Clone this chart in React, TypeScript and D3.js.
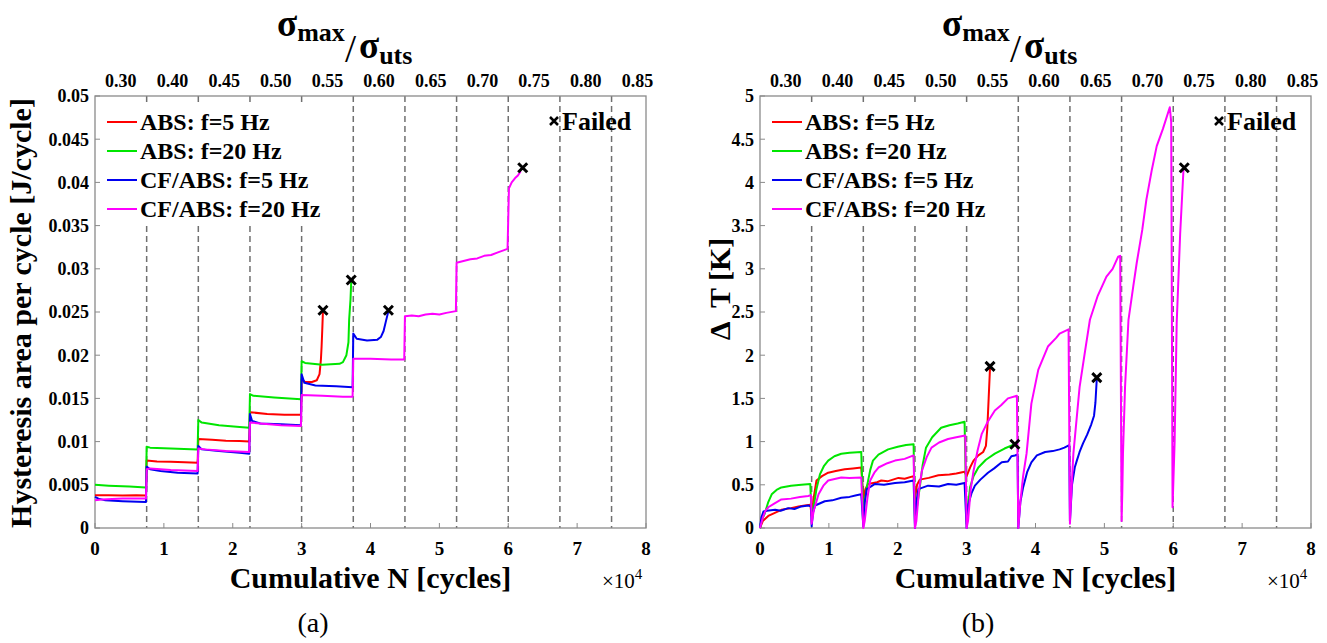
import React, { useEffect, useRef } from 'react';
import * as d3 from 'd3';

const WIDTH = 1327;
const HEIGHT = 643;
const FONT = '"Liberation Serif", "Times New Roman", serif';

// x values are cumulative cycles in units of 1e4
const stepBounds = [0.75, 1.5, 2.25, 3, 3.75, 4.5, 5.25, 6, 6.75, 7.5];
const ratioMids = [0.375, 1.125, 1.875, 2.625, 3.375, 4.125, 4.875, 5.625, 6.375, 7.125, 7.875];
const ratioLabels = ['0.30', '0.40', '0.45', '0.50', '0.55', '0.60', '0.65', '0.70', '0.75', '0.80', '0.85'];
const xTicks = [0, 1, 2, 3, 4, 5, 6, 7, 8];

const seriesNames = ['ABS: f=5 Hz', 'ABS: f=20 Hz', 'CF/ABS: f=5 Hz', 'CF/ABS: f=20 Hz'];
const seriesColors = ['#ff0000', '#00e600', '#0000f0', '#ff00ff'];

// (a) hysteresis area per cycle [J/cycle]
const hystAbs5 = [
  [0, 0.0038], [0.2, 0.0038], [0.4, 0.00375], [0.6, 0.0038], [0.74, 0.00375],
  [0.75, 0.0078], [0.9, 0.0077], [1.1, 0.00768], [1.3, 0.0076], [1.49, 0.00755],
  [1.5, 0.0103], [1.7, 0.0102], [1.9, 0.0101], [2.1, 0.01008], [2.24, 0.01],
  [2.25, 0.0134], [2.5, 0.0132], [2.75, 0.0131], [2.99, 0.0131],
  [3.0, 0.0172], [3.05, 0.0169], [3.15, 0.0169], [3.22, 0.0171], [3.26, 0.0178],
  [3.28, 0.0195], [3.29, 0.021], [3.3, 0.023], [3.31, 0.0252]
];
const hystAbs20 = [
  [0, 0.005], [0.2, 0.0049], [0.5, 0.0048], [0.74, 0.0047],
  [0.75, 0.0094], [0.8, 0.0093], [1.1, 0.0092], [1.49, 0.0091],
  [1.5, 0.0125], [1.55, 0.0122], [1.8, 0.0119], [2.1, 0.0117], [2.24, 0.0116],
  [2.25, 0.0155], [2.3, 0.0153], [2.6, 0.0151], [2.99, 0.0149],
  [3.0, 0.0193], [3.05, 0.0191], [3.3, 0.0189], [3.55, 0.019], [3.6, 0.0192],
  [3.65, 0.02], [3.68, 0.0215], [3.69, 0.0241], [3.71, 0.0265], [3.72, 0.0285]
];
const hystCf5 = [
  [0, 0.0036], [0.05, 0.0034], [0.15, 0.0032], [0.4, 0.0031], [0.74, 0.003],
  [0.75, 0.0071], [0.8, 0.0068], [0.95, 0.0066], [1.2, 0.0064], [1.49, 0.0063],
  [1.5, 0.0095], [1.55, 0.0091], [1.8, 0.0089], [2.1, 0.0087], [2.24, 0.0086],
  [2.25, 0.0132], [2.28, 0.0124], [2.4, 0.0121], [2.7, 0.012], [2.99, 0.0119],
  [3.0, 0.0178], [3.04, 0.0168], [3.2, 0.0165], [3.5, 0.0164], [3.74, 0.0163],
  [3.75, 0.0225], [3.8, 0.0219], [3.95, 0.0217], [4.1, 0.0218], [4.15, 0.0221],
  [4.19, 0.0228], [4.22, 0.0238], [4.26, 0.0251]
];
const hystCf20 = [
  [0, 0.0032], [0.1, 0.0033], [0.4, 0.0034], [0.74, 0.0034],
  [0.75, 0.0068], [0.8, 0.0069], [1.1, 0.0067], [1.49, 0.0066],
  [1.5, 0.0092], [1.6, 0.0091], [1.9, 0.0089], [2.24, 0.0088],
  [2.25, 0.0122], [2.4, 0.0121], [2.7, 0.0119], [2.99, 0.0118],
  [3.0, 0.0154], [3.3, 0.0153], [3.6, 0.0152], [3.74, 0.0152],
  [3.75, 0.0196], [4.0, 0.0196], [4.3, 0.0195], [4.49, 0.0195],
  [4.5, 0.0245], [4.6, 0.0246], [4.7, 0.0245], [4.8, 0.0247], [4.9, 0.0248],
  [5.0, 0.0247], [5.1, 0.0249], [5.24, 0.0251],
  [5.25, 0.0307], [5.35, 0.0309], [5.45, 0.0311], [5.55, 0.0312], [5.65, 0.0315],
  [5.75, 0.0316], [5.85, 0.0319], [5.99, 0.0323],
  [6.01, 0.0393], [6.05, 0.04], [6.1, 0.0405], [6.14, 0.0408], [6.18, 0.0413]
];
const hystFailed = [[3.31, 0.0252], [3.72, 0.0287], [4.26, 0.0252], [6.21, 0.0417]];
const hystTicks = [0, 0.005, 0.01, 0.015, 0.02, 0.025, 0.03, 0.035, 0.04, 0.045, 0.05];
const hystTickLabels = ['0', '0.005', '0.01', '0.015', '0.02', '0.025', '0.03', '0.035', '0.04', '0.045', '0.05'];

// (b) temperature rise [K]
const dtAbs5 = [
  [0, 0], [0.04, 0.08], [0.12, 0.14], [0.2, 0.17], [0.31, 0.21], [0.45, 0.23], [0.56, 0.25], [0.65, 0.26], [0.73, 0.27],
  [0.75, 0.15], [0.78, 0.35], [0.82, 0.55], [0.9, 0.6], [0.99, 0.64], [1.1, 0.66], [1.23, 0.68], [1.35, 0.69], [1.47, 0.7],
  [1.5, 0.34], [1.53, 0.45], [1.57, 0.51], [1.7, 0.53], [1.76, 0.55], [1.85, 0.54], [2.01, 0.58], [2.1, 0.57], [2.23, 0.6],
  [2.25, 0.34], [2.28, 0.5], [2.32, 0.56], [2.45, 0.58], [2.59, 0.61], [2.75, 0.62], [2.85, 0.63], [2.97, 0.65],
  [3.0, 0.6], [3.05, 0.7], [3.1, 0.78], [3.17, 0.84], [3.24, 0.88], [3.28, 0.95], [3.3, 1.15], [3.32, 1.5], [3.34, 1.86]
];
const dtAbs20 = [
  [0, 0], [0.03, 0.1], [0.07, 0.17], [0.12, 0.3], [0.17, 0.39], [0.24, 0.44], [0.31, 0.47], [0.45, 0.49], [0.6, 0.5], [0.73, 0.51],
  [0.75, 0.14], [0.78, 0.25], [0.82, 0.45], [0.87, 0.62], [0.93, 0.72], [0.99, 0.78], [1.08, 0.83], [1.18, 0.86], [1.3, 0.87], [1.47, 0.88],
  [1.5, 0.1], [1.52, 0.3], [1.55, 0.47], [1.6, 0.67], [1.64, 0.78], [1.72, 0.85], [1.86, 0.91], [2.0, 0.94], [2.12, 0.96], [2.23, 0.97],
  [2.25, 0.05], [2.28, 0.25], [2.32, 0.47], [2.36, 0.72], [2.41, 0.93], [2.5, 1.05], [2.63, 1.16], [2.75, 1.19], [2.87, 1.21], [2.97, 1.23],
  [3.0, 0.05], [3.02, 0.25], [3.05, 0.47], [3.1, 0.6], [3.17, 0.7], [3.28, 0.79], [3.41, 0.86], [3.55, 0.92], [3.7, 0.97]
];
const dtCf5 = [
  [0, 0], [0.02, 0.12], [0.05, 0.19], [0.1, 0.2], [0.22, 0.21], [0.3, 0.2], [0.41, 0.23], [0.5, 0.22], [0.6, 0.25], [0.7, 0.26], [0.74, 0.25],
  [0.75, 0.02], [0.77, 0.18], [0.8, 0.26], [0.94, 0.31], [1.05, 0.32], [1.18, 0.35], [1.3, 0.36], [1.4, 0.38], [1.47, 0.39],
  [1.5, 0.02], [1.52, 0.3], [1.55, 0.45], [1.67, 0.51], [1.8, 0.5], [1.96, 0.52], [2.1, 0.53], [2.23, 0.55],
  [2.25, 0], [2.27, 0.3], [2.3, 0.45], [2.44, 0.49], [2.6, 0.48], [2.73, 0.51], [2.85, 0.5], [2.97, 0.52],
  [3.0, 0], [3.02, 0.26], [3.07, 0.4], [3.12, 0.49], [3.2, 0.56], [3.31, 0.64], [3.4, 0.69], [3.51, 0.76], [3.6, 0.77], [3.65, 0.83], [3.7, 0.84], [3.74, 0.85],
  [3.75, 0], [3.78, 0.3], [3.82, 0.47], [3.88, 0.65], [3.94, 0.76], [4.02, 0.84], [4.14, 0.88], [4.25, 0.89], [4.35, 0.91], [4.42, 0.93], [4.49, 0.96],
  [4.5, 0.08], [4.53, 0.5], [4.57, 0.7], [4.6, 0.78], [4.64, 0.88], [4.69, 0.98], [4.75, 1.08], [4.81, 1.2], [4.85, 1.3], [4.87, 1.45], [4.89, 1.73]
];
const dtCf20 = [
  [0, 0], [0.04, 0.12], [0.08, 0.2], [0.12, 0.24], [0.2, 0.28], [0.31, 0.33], [0.45, 0.34], [0.58, 0.36], [0.7, 0.37], [0.74, 0.38],
  [0.75, 0.05], [0.78, 0.2], [0.85, 0.39], [0.92, 0.49], [0.99, 0.55], [1.1, 0.57], [1.18, 0.585], [1.3, 0.58], [1.47, 0.585],
  [1.5, 0], [1.52, 0.08], [1.56, 0.35], [1.6, 0.55], [1.66, 0.64], [1.72, 0.7], [1.85, 0.75], [1.96, 0.78], [2.1, 0.8], [2.23, 0.84],
  [2.25, 0], [2.27, 0.08], [2.31, 0.45], [2.35, 0.66], [2.42, 0.82], [2.49, 0.93], [2.6, 0.99], [2.73, 1.03], [2.85, 1.05], [2.98, 1.07],
  [3.0, 0], [3.02, 0.08], [3.06, 0.45], [3.1, 0.66], [3.16, 0.9], [3.22, 1.09], [3.3, 1.22], [3.41, 1.36], [3.5, 1.42], [3.6, 1.5], [3.73, 1.53],
  [3.75, 0], [3.78, 0.3], [3.82, 0.6], [3.87, 0.86], [3.94, 1.44], [4.04, 1.83], [4.18, 2.1], [4.3, 2.2], [4.35, 2.25], [4.48, 2.3],
  [4.5, 0.05], [4.52, 0.4], [4.55, 0.86], [4.64, 1.63], [4.72, 2.05], [4.79, 2.41], [4.9, 2.68], [5.03, 2.91], [5.12, 3.0], [5.2, 3.14], [5.23, 3.15],
  [5.25, 0.08], [5.26, 0.4], [5.27, 0.86], [5.3, 1.63], [5.35, 2.41], [5.42, 2.8], [5.47, 3.07], [5.55, 3.45], [5.61, 3.8], [5.69, 4.15],
  [5.76, 4.42], [5.85, 4.62], [5.95, 4.87], [5.97, 4.7],
  [5.99, 0.24], [6.02, 1.0], [6.05, 2.37], [6.1, 3.4], [6.15, 4.17]
];
const dtFailed = [[3.34, 1.87], [3.7, 0.97], [4.89, 1.74], [6.16, 4.17]];
const dtTicks = [0, 0.5, 1, 1.5, 2, 2.5, 3, 3.5, 4, 4.5, 5];
const dtTickLabels = ['0', '0.5', '1', '1.5', '2', '2.5', '3', '3.5', '4', '4.5', '5'];

type Pt = number[];

interface PanelOpts {
  x0: number;
  x1: number;
  yMax: number;
  yTicks: number[];
  yTickLabels: string[];
  series: Pt[][];
  failed: Pt[];
  ylabel: string;
  ylabelX: number;
  ylabelY: number;
  tag: string;
  tagX: number;
}

const TOP = 96;
const BOTTOM = 528;

function drawPanel(svg: d3.Selection<SVGSVGElement, unknown, null, undefined>, o: PanelOpts) {
  const g = svg.append('g');
  const x = d3.scaleLinear().domain([0, 8]).range([o.x0, o.x1]);
  const y = d3.scaleLinear().domain([0, o.yMax]).range([BOTTOM, TOP]);

  // stress-level boundaries
  g.selectAll('line.step')
    .data(stepBounds)
    .enter()
    .append('line')
    .attr('x1', d => x(d))
    .attr('x2', d => x(d))
    .attr('y1', TOP)
    .attr('y2', BOTTOM)
    .attr('stroke', '#707070')
    .attr('stroke-width', 1.5)
    .attr('stroke-dasharray', '6,4');

  // legend background hides the dashed lines behind it
  g.append('rect')
    .attr('x', o.x0 + 2)
    .attr('y', 106)
    .attr('width', 232)
    .attr('height', 116)
    .attr('fill', '#fff');

  // axes box
  g.append('rect')
    .attr('x', o.x0)
    .attr('y', TOP)
    .attr('width', o.x1 - o.x0)
    .attr('height', BOTTOM - TOP)
    .attr('fill', 'none')
    .attr('stroke', '#8a8a8a')
    .attr('stroke-width', 1.3);

  // ticks
  g.selectAll('line.xt')
    .data(xTicks)
    .enter()
    .append('line')
    .attr('x1', d => x(d))
    .attr('x2', d => x(d))
    .attr('y1', BOTTOM)
    .attr('y2', BOTTOM - 5)
    .attr('stroke', '#8a8a8a');
  g.selectAll('line.yt')
    .data(o.yTicks)
    .enter()
    .append('line')
    .attr('x1', o.x0)
    .attr('x2', o.x0 + 5)
    .attr('y1', d => y(d))
    .attr('y2', d => y(d))
    .attr('stroke', '#8a8a8a');

  // tick labels
  g.selectAll('text.xl')
    .data(xTicks)
    .enter()
    .append('text')
    .attr('x', d => x(d))
    .attr('y', 555)
    .attr('text-anchor', 'middle')
    .attr('font-family', FONT)
    .attr('font-weight', 'bold')
    .attr('font-size', 19)
    .text(d => String(d));
  g.selectAll('text.yl')
    .data(o.yTicks)
    .enter()
    .append('text')
    .attr('x', o.x0 - 6)
    .attr('y', d => y(d))
    .attr('dy', '0.35em')
    .attr('text-anchor', 'end')
    .attr('font-family', FONT)
    .attr('font-weight', 'bold')
    .attr('font-size', 18)
    .text((d, i) => o.yTickLabels[i]);
  g.selectAll('text.tl')
    .data(ratioMids)
    .enter()
    .append('text')
    .attr('x', d => x(d))
    .attr('y', 87)
    .attr('text-anchor', 'middle')
    .attr('font-family', FONT)
    .attr('font-weight', 'bold')
    .attr('font-size', 18)
    .text((d, i) => ratioLabels[i]);

  // data
  const line = d3.line<Pt>().x(d => x(d[0])).y(d => y(d[1]));
  o.series.forEach((s, i) => {
    g.append('path')
      .attr('d', line(s))
      .attr('fill', 'none')
      .attr('stroke', seriesColors[i])
      .attr('stroke-width', 2)
      .attr('stroke-linejoin', 'round');
  });

  const cross = (px: number, py: number, r: number) =>
    `M${px - r},${py - r}L${px + r},${py + r}M${px - r},${py + r}L${px + r},${py - r}`;
  g.selectAll('path.fail')
    .data(o.failed)
    .enter()
    .append('path')
    .attr('d', d => cross(x(d[0]), y(d[1]), 4.5))
    .attr('stroke', '#000')
    .attr('stroke-width', 3);

  // legend
  seriesNames.forEach((name, i) => {
    const ly = 122 + i * 29;
    g.append('line')
      .attr('x1', o.x0 + 12)
      .attr('x2', o.x0 + 42)
      .attr('y1', ly)
      .attr('y2', ly)
      .attr('stroke', seriesColors[i])
      .attr('stroke-width', 2);
    g.append('text')
      .attr('x', o.x0 + 45)
      .attr('y', ly + 8)
      .attr('font-family', FONT)
      .attr('font-weight', 'bold')
      .attr('font-size', 24)
      .text(name);
  });
  g.append('path')
    .attr('d', cross(o.x0 + 459, 121, 4))
    .attr('stroke', '#000')
    .attr('stroke-width', 2.5);
  g.append('text')
    .attr('x', o.x0 + 467)
    .attr('y', 130)
    .attr('font-family', FONT)
    .attr('font-weight', 'bold')
    .attr('font-size', 26)
    .text('Failed');

  // stress ratio title
  const t1 = g.append('text')
    .attr('x', o.x0 + 182)
    .attr('y', 36)
    .attr('font-family', FONT)
    .attr('font-weight', 'bold')
    .attr('font-size', 37);
  t1.append('tspan').text('σ');
  t1.append('tspan').attr('dy', 5).attr('font-size', 26).text('max');
  g.append('text')
    .attr('x', o.x0 + 250)
    .attr('y', 62)
    .attr('font-family', FONT)
    .attr('font-size', 40)
    .text('/');
  const t2 = g.append('text')
    .attr('x', o.x0 + 264)
    .attr('y', 58)
    .attr('font-family', FONT)
    .attr('font-weight', 'bold')
    .attr('font-size', 37);
  t2.append('tspan').text('σ');
  t2.append('tspan').attr('dy', 6).attr('font-size', 26).text('uts');

  // axis titles
  g.append('text')
    .attr('x', (o.x0 + o.x1) / 2)
    .attr('y', 588)
    .attr('text-anchor', 'middle')
    .attr('font-family', FONT)
    .attr('font-weight', 'bold')
    .attr('font-size', 30)
    .text('Cumulative N [cycles]');
  const sci = g.append('text')
    .attr('x', o.x1 - 44)
    .attr('y', 588)
    .attr('font-family', FONT)
    .attr('font-size', 21);
  sci.append('tspan').text('×10');
  sci.append('tspan').attr('dy', -9).attr('font-size', 15).text('4');

  g.append('text')
    .attr('transform', `translate(${o.ylabelX},${o.ylabelY}) rotate(-90)`)
    .attr('text-anchor', 'middle')
    .attr('font-family', FONT)
    .attr('font-weight', 'bold')
    .attr('font-size', 30)
    .attr('xml:space', 'preserve')
    .style('white-space', 'pre')
    .text(o.ylabel);

  g.append('text')
    .attr('x', o.tagX)
    .attr('y', 632)
    .attr('text-anchor', 'middle')
    .attr('font-family', FONT)
    .attr('font-size', 28)
    .text(o.tag);
}

const App: React.FC = () => {
  const svgRef = useRef<SVGSVGElement>(null);

  useEffect(() => {
    if (!svgRef.current) return;
    const svg = d3.select(svgRef.current);
    svg.selectAll('*').remove();

    drawPanel(svg, {
      x0: 95,
      x1: 646,
      yMax: 0.05,
      yTicks: hystTicks,
      yTickLabels: hystTickLabels,
      series: [hystAbs5, hystAbs20, hystCf5, hystCf20],
      failed: hystFailed,
      ylabel: 'Hysteresis area per cycle [J/cycle]',
      ylabelX: 31,
      ylabelY: 313,
      tag: '(a)',
      tagX: 313
    });
    drawPanel(svg, {
      x0: 760,
      x1: 1311,
      yMax: 5,
      yTicks: dtTicks,
      yTickLabels: dtTickLabels,
      series: [dtAbs5, dtAbs20, dtCf5, dtCf20],
      failed: dtFailed,
      ylabel: 'Δ  T [K]',
      ylabelX: 730,
      ylabelY: 289,
      tag: '(b)',
      tagX: 978
    });
  }, []);

  return (
    <svg
      ref={svgRef}
      width={WIDTH}
      height={HEIGHT}
      style={{ position: 'absolute', left: 0, top: 0, background: '#fff' }}
    />
  );
};

export default App;
